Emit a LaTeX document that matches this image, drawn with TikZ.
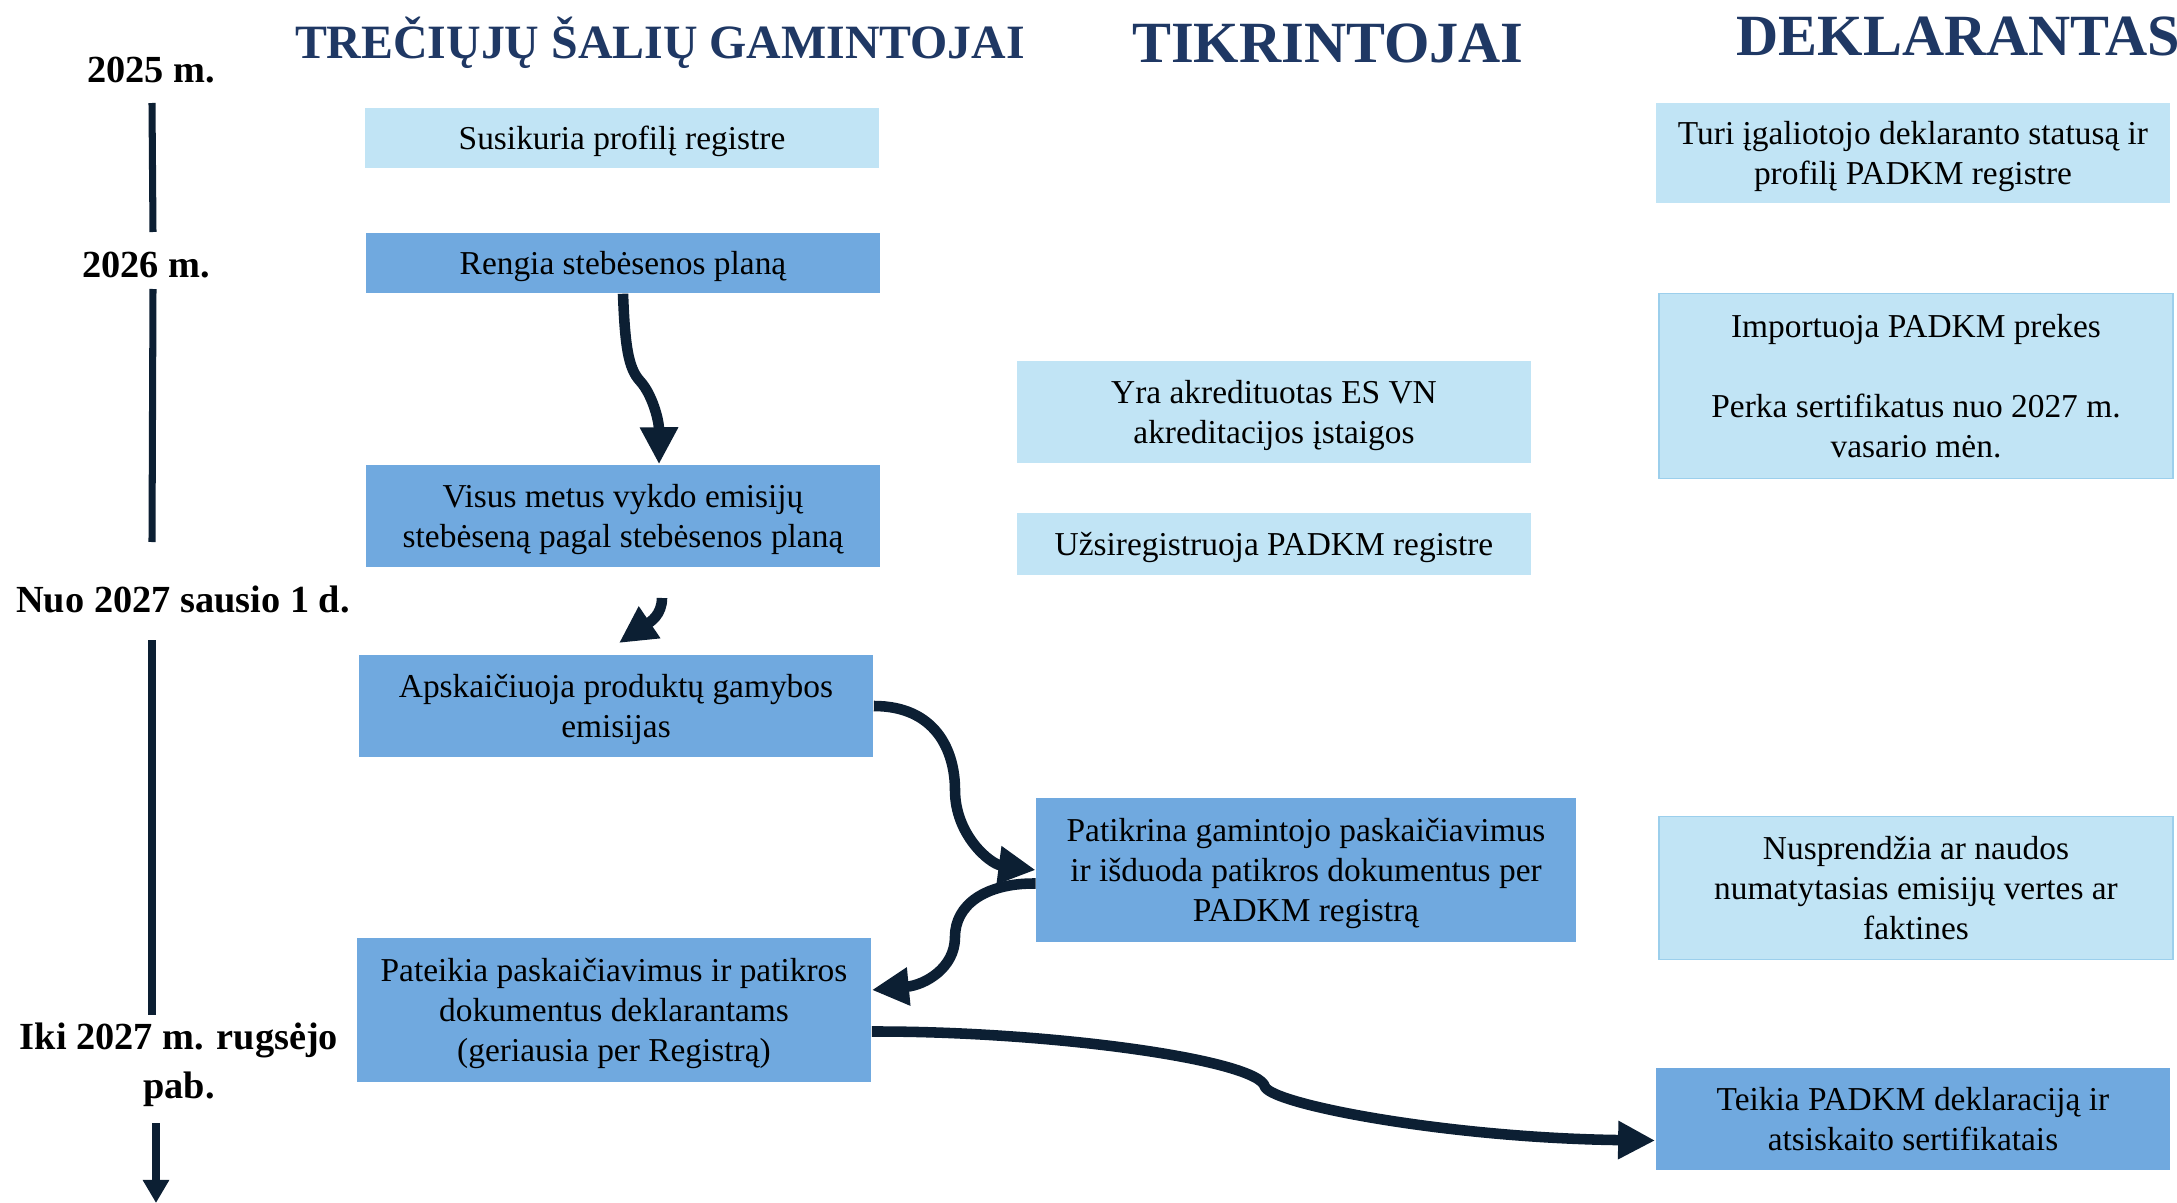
\documentclass[tikz,border=0pt]{standalone}
\usepackage{fontspec}
\setmainfont{Liberation Serif}
\usetikzlibrary{arrows.meta}
\definecolor{paleblue}{HTML}{C1E4F5}
\definecolor{midblue}{HTML}{70A9DF}
\definecolor{edgeblue}{HTML}{9CCFEC}
\definecolor{headnavy}{HTML}{1F3864}
\definecolor{flownavy}{HTML}{0C1F33}
\newcommand{\boxtext}{\fontsize{9.5}{11.4}\selectfont}
\newcommand{\yeartext}{\fontsize{10.9}{13.7}\selectfont\bfseries}

\begin{document}
\begin{tikzpicture}[x=0.01cm,y=-0.01cm]
  \tikzstyle{palebox}=[fill=paleblue, align=center, inner sep=0pt, text depth=0pt, minimum width=5.14cm, font=\boxtext]
  \tikzstyle{midbox}=[fill=midblue, align=center, inner sep=0pt, text depth=0pt, minimum width=5.14cm, font=\boxtext]
  \tikzstyle{heading}=[text=headnavy, anchor=base, inner sep=0pt]
  \tikzstyle{year}=[font=\yeartext, align=center, anchor=base, inner sep=0pt]
  \tikzstyle{timeline}=[line width=2pt, draw=flownavy]
  \tikzstyle{flow}=[line width=3pt, draw=flownavy, line join=round, -{Triangle[length=0.37cm,width=0.36cm]}]
  \useasboundingbox (0,0) rectangle (2177,1203);

  % column headings
  \node[heading, font=\fontsize{13.6}{16}\selectfont\bfseries] (gamintojai) at (660,58) {TREČIŲJŲ ŠALIŲ GAMINTOJAI};
  \node[heading, font=\fontsize{16.6}{19}\selectfont\bfseries] (tikrintojai) at (1328,62) {TIKRINTOJAI};
  \node[heading, anchor=base west, font=\fontsize{16.6}{19}\selectfont\bfseries] (deklarantas) at (1736,55) {DEKLARANTAS};

  % years
  \node[year] (y2025) at (151,83) {2025 m.};
  \node[year] (y2026) at (146,277) {2026 m.};
  \node[year] (y2027) at (183,612) {Nuo 2027 sausio 1 d.};
  \node[year] (y2027end) at (179,1098) {Iki 2027 m. rugsėjo\\pab.};

  \coordinate (tl1) at (152,103);
  \coordinate (tl2) at (153,232);
  \coordinate (tl3) at (153,289);
  \coordinate (tl4) at (152,542);
  \coordinate (tl5) at (152,640);
  \coordinate (tl6) at (152,1015);
  \coordinate (tl7) at (156,1123);
  \coordinate (tl8) at (156,1203);
  \draw[timeline] (tl1) -- (tl2);
  \draw[timeline] (tl3) -- (tl4);
  \draw[timeline] (tl5) -- (tl6);
  \draw[timeline, -{Triangle[length=0.23cm,width=0.25cm]}] (tl7) -- (tl8);

  % gamintojai
  \node[palebox, minimum height=0.6cm] (susikuria) at (622,138) {Susikuria profilį registre};
  \node[midbox, minimum height=0.6cm] (rengia) at (623,263) {Rengia stebėsenos planą};
  \node[midbox, minimum height=1.02cm] (visus) at (623,516) {Visus metus vykdo emisijų\\stebėseną pagal stebėsenos planą};
  \node[midbox, minimum height=1.01cm] (apsk) at (616,706) {Apskaičiuoja produktų gamybos\\emisijas};
  \node[midbox, minimum height=1.43cm] (pateikia) at (614,1010) {Pateikia paskaičiavimus ir patikros\\dokumentus deklarantams\\(geriausia per Registrą)};

  % tikrintojai
  \node[palebox, minimum height=1.02cm] (akred) at (1274,412) {Yra akredituotas ES VN\\akreditacijos įstaigos};
  \node[palebox, minimum height=0.61cm] (uzsireg) at (1274,544) {Užsiregistruoja PADKM registre};
  \node[midbox, minimum height=1.43cm, minimum width=5.39cm] (patikrina) at (1306,870) {Patikrina gamintojo paskaičiavimus\\ir išduoda patikros dokumentus per\\PADKM registrą};

  % deklarantas
  \node[palebox, minimum height=1.0cm] (turi) at (1913,153) {Turi įgaliotojo deklaranto statusą ir\\profilį PADKM registre};
  \node[palebox, draw=edgeblue, minimum height=1.85cm] (importuoja) at (1916,386) {Importuoja PADKM prekes\\[11.4pt]Perka sertifikatus nuo 2027 m.\\vasario mėn.};
  \node[palebox, draw=edgeblue, minimum height=1.43cm] (nusprendzia) at (1916,888) {Nusprendžia ar naudos\\numatytasias emisijų vertes ar\\faktines};
  \node[midbox, minimum height=1.01cm] (teikia) at (1913,1119) {Teikia PADKM deklaraciją ir\\atsiskaito sertifikatais};

  % arrows
  \coordinate (visusout) at (662,598);
  \coordinate (apskin) at (619,643);
  \draw[flow] (rengia.south) .. controls (625,345) and (628,368) .. (640,381) .. controls (652,394) and (659,420) .. ([xshift=0.36cm]visus.north);
  \draw[flow] (visusout) .. controls (662,615) and (650,622) .. (apskin);
  \draw[flow] (apsk.east) .. controls (935,706) and (955,750) .. (955,790) .. controls (955,835) and (990,864) .. (patikrina.west);
  \draw[flow] ([yshift=-0.135cm]patikrina.west) .. controls (985,883) and (955,905) .. (955,937) .. controls (955,968) and (925,985) .. ([yshift=0.2cm]pateikia.east);
  \draw[flow] ([yshift=-0.215cm]pateikia.east) .. controls (1050,1031) and (1260,1060) .. (1265,1087) .. controls (1275,1105) and (1450,1138) .. ([yshift=-0.215cm]teikia.west);
\end{tikzpicture}
\end{document}
